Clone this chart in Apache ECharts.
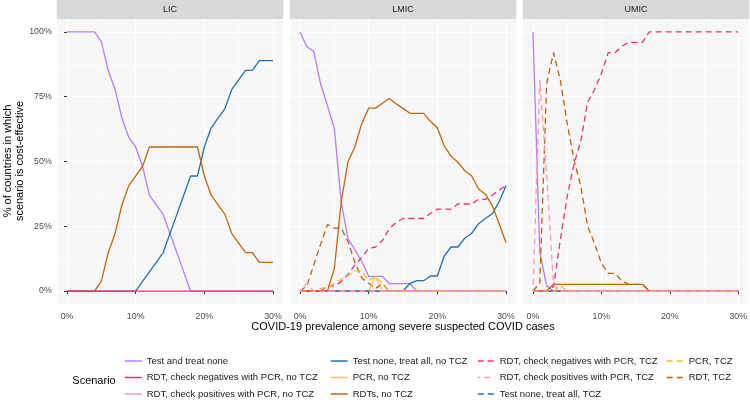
<!DOCTYPE html>
<html>
<head>
<meta charset="utf-8">
<script src="https://cdn.jsdelivr.net/npm/echarts@6/dist/echarts.min.js"></script>
<style>html,body{margin:0;padding:0;background:#fff}#c{width:750px;height:408px}</style>
</head>
<body>
<div id="c"></div>
<script>
// ---------- data ----------
const prevalence = [0,1,2,3,4,5,6,7,8,9,10,11,12,13,14,15,16,17,18,19,20,21,22,23,24,25,26,27,28,29,30];
const xTickValues = [0,10,20,30];
const xMinorValues = [5,15,25];
const yTickValues = [0,25,50,75,100];
const yMinorValues = [12.5,37.5,62.5,87.5];
const panelNames = ['LIC','LMIC','UMIC'];
const scenarioNames = [
  'Test and treat none',
  'RDT, check negatives with PCR, no TCZ',
  'RDT, check positives with PCR, no TCZ',
  'Test none, treat all, no TCZ',
  'PCR, no TCZ',
  'RDTs, no TCZ',
  'RDT, check negatives with PCR, TCZ',
  'RDT, check positives with PCR, TCZ',
  'Test none, treat all, TCZ',
  'PCR, TCZ',
  'RDT, TCZ'
];

// LIC
const lic_testTreatNone = [100,100,100,100,100,96.3,85.2,77.8,66.7,59.3,55.6,48.1,37,33.3,29.6,22.2,14.8,7.4,0,0,0,0,0,0,0,0,0,0,0,0,0];
const lic_rdtNegNoTCZ   = [0,0,0,0,0,0,0,0,0,0,0,0,0,0,0,0,0,0,0,0,0,0,0,0,0,0,0,0,0,0,0];
const lic_treatAllNoTCZ = [0,0,0,0,0,0,0,0,0,0,0,3.7,7.4,11.1,14.8,22.2,29.6,37,44.4,44.4,55.6,63,66.7,70.4,77.8,81.5,85.2,85.2,88.9,88.9,88.9];
const lic_rdtsNoTCZ     = [0,0,0,0,0,3.7,14.8,22.2,33.3,40.7,44.4,48.1,55.6,55.6,55.6,55.6,55.6,55.6,55.6,55.6,44.4,37,33.3,29.6,22.2,18.5,14.8,14.8,11.1,11.1,11.1];

// LMIC
const lmic_testTreatNone = [100,94.3,92.5,80,71.4,62.9,34.3,20,16,11.4,5.7,5.7,5.7,2.9,2.9,2.9,2.9,0,0,0,0,0,0,0,0,0,0,0,0,0,0];
const lmic_treatAllNoTCZ = [0,0,0,0,0,0,0,0,0,0,0,0,0,0,0,0,2.9,4,4,5.8,5.8,13.5,17,17,20.4,22.3,26,28,29.8,34.5,40.6];
const lmic_rdtsNoTCZ     = [0,0,0,0,0,8.6,34.3,50,55.7,64.7,70.6,70.6,72.5,74.3,72.3,70.5,68.6,68.6,68.6,65.5,63,56,52,49.7,46.4,44.5,39.4,37.4,33,26,18.7];
const lmic_rdtNegTCZ     = [0,0,0,0,2,2,3.6,6.5,10,13,16.5,17,19.5,24,26.5,28,28,28,28,30,31.6,31.6,31.6,33.6,33.6,33.6,35.4,35.4,37,39,40.6];
const lmic_rdtTCZ        = [0,2,10,18,25.7,24.3,24.3,19,11,5,3,1,2.9,0,0,0,0,0,0,0,0,0,0,0,0,0,0,0,0,0,0];
const lmic_pcrTCZ        = [0,0,0,1,1.5,3,4.5,6,7.8,7.8,4,5.7,3,0,0,0,0,0,0,0,0,0,0,0,0,0,0,0,0,0,0];
const lmic_pcrNoTCZ      = [null,null,null,null,null,null,null,null,null,null,0,5.7,0,null,null,null,null,null,null,null,null,null,null,null,null,null,null,null,null,null,null];
const lmic_rdtPosTCZ     = [0,3,0,0,0,0,0,0,0,0,0,0,0,0,0,0,0,0,0,0,0,0,0,0,0,0,0,0,0,0,0];
const lmic_rdtNegNoTCZ   = [0,0,0,0,0,0,0,0,0,0,0,0,0,0,0,0,0,0,0,0,0,0,0,0,0,0,0,0,0,0,0];
const lmic_rdtPosNoTCZ   = [null,null,null,null,0,0,0,0,0,0,0,0,0,0,0,0,0,0,0,0,0,0,0,0,0,0,0,0,0,0,0];
const lmic_treatAllTCZ   = [null,null,null,null,null,0,0,0,0,0,0,0,0,null,null,null,null,null,null,null,null,null,null,null,null,null,null,null,null,null,null];

// UMIC
const umic_testTreatNone = [100,15,2,0,0,0,0,0,0,0,0,0,0,0,0,0,0,0,0,0,0,0,0,0,0,0,0,0,0,0,0];
const umic_rdtPosTCZ     = [0,81.5,45,2.5,0,0,0,0,0,0,0,0,0,0,0,0,0,0,0,0,0,0,0,0,0,0,0,0,0,0,0];
const umic_rdtTCZ        = [0,3,80,92,81.5,64.8,50.6,40.3,24.9,18.4,10.7,6.8,6.8,3.9,2.6,2.6,2.6,0,0,0,0,0,0,0,0,0,0,0,0,0,0];
const umic_rdtsNoTCZ     = [0,0,0,2.6,2.6,2.6,2.6,2.6,2.6,2.6,2.6,2.6,2.6,2.6,2.6,2.6,2.6,0,0,0,0,0,0,0,0,0,0,0,0,0,0];
const umic_rdtNegTCZ     = [0,0,0,1.7,19.7,36.5,49,58,73,77.7,84,92,92,94.5,96,96,96,100,100,100,100,100,100,100,100,100,100,100,100,100,100];
const umic_rdtNegNoTCZ   = [0,0,0,0,0,0,0,0,0,0,0,0,0,0,0,0,0,0,0,0,0,0,0,0,0,0,0,0,0,0,0];
const umic_rdtPosNoTCZ   = [null,null,null,0,0,0,0,0,0,0,0,0,0,0,0,0,0,0,0,0,0,0,0,0,0,0,0,0,0,0,0];
const umic_treatAllTCZ   = [null,null,0,0,0,null,null,null,null,null,null,null,null,null,null,null,null,null,null,null,null,null,null,null,null,null,null,null,null,null,null];
const umic_pcrTCZ        = [0,0,0,0,2,0,0,0,0,0,0,0,0,0,0,0,0,0,0,0,0,0,0,0,0,0,0,0,0,0,0];

// ---------- styles ----------
const scenarioStyle = [
  {color:'#B57EFC', dash:'solid'},
  {color:'#EE2F7C', dash:'solid'},
  {color:'#FB9BB6', dash:'solid'},
  {color:'#2271B1', dash:'solid'},
  {color:'#F8C45A', dash:'solid'},
  {color:'#C4660F', dash:'solid'},
  {color:'#EE2F7C', dash:[6,4]},
  {color:'#FB9BB6', dash:[6,4]},
  {color:'#2271B1', dash:[6,4]},
  {color:'#F5B92E', dash:[6,4]},
  {color:'#B8620E', dash:[6,4]}
];

// draw order per panel: [scenario index, values, dashOffset]
const panelSeries = [
  [[0,lic_testTreatNone],[3,lic_treatAllNoTCZ],[5,lic_rdtsNoTCZ],[1,lic_rdtNegNoTCZ]],
  [[0,lmic_testTreatNone],[3,lmic_treatAllNoTCZ],[5,lmic_rdtsNoTCZ],[6,lmic_rdtNegTCZ],[10,lmic_rdtTCZ],
   [1,lmic_rdtNegNoTCZ],[2,lmic_rdtPosNoTCZ],[4,lmic_pcrNoTCZ],[8,lmic_treatAllTCZ],[9,lmic_pcrTCZ],[7,lmic_rdtPosTCZ,3.5]],
  [[0,umic_testTreatNone],[5,umic_rdtsNoTCZ],[6,umic_rdtNegTCZ],[10,umic_rdtTCZ],[1,umic_rdtNegNoTCZ],
   [2,umic_rdtPosNoTCZ],[8,umic_treatAllTCZ],[9,umic_pcrTCZ],[7,umic_rdtPosTCZ,3.5]]
];

const panelLeft = [56.7, 289.7, 522.7];
const panelW = 226.6, panelTop = 19, panelH = 285;
const FONT = 'Liberation Sans, Arial, sans-serif';

const grids = [], xAxes = [], yAxes = [], series = [], graphics = [];
panelNames.forEach((pn, p) => {
  grids.push({left: panelLeft[p], top: panelTop, width: panelW, height: panelH,
    show: true, backgroundColor: '#F7F7F7', borderWidth: 0});
  xAxes.push({gridIndex: p, type: 'value', min: -1.5, max: 31.5,
    axisLine: {show: false},
    axisTick: {show: true, length: 3, lineStyle: {color: '#333', width: 1}, customValues: xTickValues},
    axisLabel: {show: true, customValues: xTickValues, formatter: v => v + '%', fontSize: 8.8, color: '#4D4D4D', margin: 8, fontFamily: FONT},
    splitLine: {show: true, lineStyle: {color: '#FFFFFF', width: 1.1}}});
  xAxes.push({gridIndex: p, type: 'value', min: -1.5, max: 31.5,
    axisLine: {show: false},
    axisTick: {show: false, customValues: xMinorValues},
    axisLabel: {show: false, customValues: xMinorValues},
    splitLine: {show: true, lineStyle: {color: '#FFFFFF', width: 0.6}}});
  yAxes.push({gridIndex: p, type: 'value', min: -5, max: 105,
    axisLine: {show: false},
    axisTick: {show: p === 0, length: 3, lineStyle: {color: '#333', width: 1}, customValues: yTickValues},
    axisLabel: {show: p === 0, customValues: yTickValues, formatter: v => v + '%', fontSize: 8.8, color: '#4D4D4D', margin: 5, fontFamily: FONT},
    splitLine: {show: true, lineStyle: {color: '#FFFFFF', width: 1.1}}});
  yAxes.push({gridIndex: p, type: 'value', min: -5, max: 105,
    axisLine: {show: false},
    axisTick: {show: false, customValues: yMinorValues},
    axisLabel: {show: false, customValues: yMinorValues},
    splitLine: {show: true, lineStyle: {color: '#FFFFFF', width: 0.6}}});

  panelSeries[p].forEach(([si, vals, off]) => {
    series.push({
      name: scenarioNames[si], type: 'line', xAxisIndex: p * 2, yAxisIndex: p * 2,
      data: prevalence.map((x, j) => [x, vals[j] == null ? '-' : vals[j]]),
      symbol: 'none', showSymbol: false, connectNulls: false, animation: false, silent: true,
      color: scenarioStyle[si].color,
      itemStyle: {color: scenarioStyle[si].color},
      lineStyle: {color: scenarioStyle[si].color, width: 1.3, type: scenarioStyle[si].dash, dashOffset: off || 0}
    });
  });

  graphics.push({type: 'rect', left: panelLeft[p], top: 0, shape: {width: panelW, height: 19}, style: {fill: '#D9D9D9'}, silent: true});
  graphics.push({type: 'text', x: panelLeft[p] + panelW / 2, y: 10, style: {text: pn, fill: '#1A1A1A', fontSize: 9, align: 'center', verticalAlign: 'middle', fontFamily: FONT}, silent: true});
});

graphics.push({type: 'text', x: 403, y: 327, style: {text: 'COVID-19 prevalence among severe suspected COVID cases', fill: '#000', fontSize: 11, align: 'center', verticalAlign: 'middle', fontFamily: FONT}, silent: true});
graphics.push({type: 'text', x: 14, y: 161, rotation: Math.PI / 2, style: {text: '% of countries in which\nscenario is cost-effective', fill: '#000', fontSize: 11, lineHeight: 12, align: 'center', verticalAlign: 'middle', fontFamily: FONT}, silent: true});
graphics.push({type: 'text', x: 94, y: 381, style: {text: 'Scenario', fill: '#000', fontSize: 11, align: 'center', verticalAlign: 'middle', fontFamily: FONT}, silent: true});

const legendCols = [[0,1,2],[3,4,5],[6,7,8],[9,10]];
const legendLeft = [124, 330, 477, 666];
const legends = legendCols.map((c, i) => ({
  orient: 'vertical', left: legendLeft[i], top: 356, itemWidth: 17, itemHeight: 12, itemGap: 6.5,
  selectedMode: false, padding: 0,
  itemStyle: {opacity: 0, borderWidth: 0},
  lineStyle: {width: 1.5},
  data: c.map(k => scenarioNames[k]),
  textStyle: {fontSize: 9.5, color: '#1A1A1A', fontFamily: FONT}
}));

const chart = echarts.init(document.getElementById('c'), null, {renderer: 'canvas'});
chart.setOption({
  animation: false,
  backgroundColor: '#FFFFFF',
  grid: grids, xAxis: xAxes, yAxis: yAxes, series: series,
  legend: legends, graphic: graphics
});
</script>
</body>
</html>
